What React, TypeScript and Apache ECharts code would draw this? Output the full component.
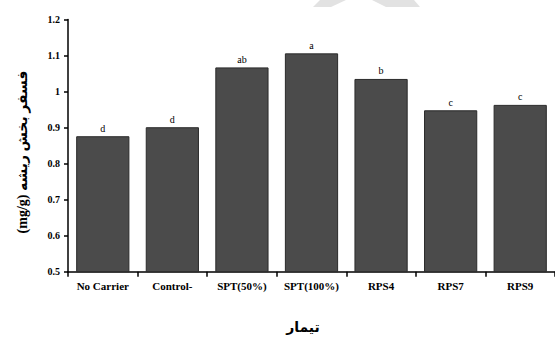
import React, { useEffect, useRef } from "react";
import * as echarts from "echarts";

const categories = ["No Carrier", "Control-", "SPT(50%)", "SPT(100%)", "RPS4", "RPS7", "RPS9"];
const values = [0.876, 0.901, 1.067, 1.106, 1.035, 0.948, 0.963];
const letters = ["d", "d", "ab", "a", "b", "c", "c"];
const yTicks = [0.5, 0.6, 0.7, 0.8, 0.9, 1, 1.1, 1.2];

export default function App() {
  const ref = useRef<HTMLDivElement>(null);
  useEffect(() => {
    if (!ref.current) return;
    const chart = echarts.init(ref.current, undefined, { renderer: "svg" });
    chart.setOption({
      animation: false,
      backgroundColor: "#ffffff",
      grid: { left: 68, right: -8, top: 19.5, bottom: 67.3, containLabel: false },
      xAxis: {
        type: "category",
        data: categories,
        axisLine: { lineStyle: { color: "#000", width: 1.5 } },
        axisTick: { show: true, length: 5, alignWithLabel: false, lineStyle: { color: "#000", width: 1.5 } },
        axisLabel: {
          color: "#000",
          fontFamily: "Liberation Serif, Times New Roman, serif",
          fontWeight: "bold",
          fontSize: 11,
          margin: 9,
          interval: 0,
        },
      },
      yAxis: {
        type: "value",
        min: 0.5,
        max: 1.2,
        interval: 0.1,
        splitLine: { show: false },
        axisLine: { show: true, lineStyle: { color: "#000", width: 1.5 } },
        axisTick: { show: true, length: 4, lineStyle: { color: "#000", width: 1.5 } },
        axisLabel: {
          color: "#000",
          fontFamily: "Liberation Serif, Times New Roman, serif",
          fontWeight: "bold",
          fontSize: 10,
          margin: 8,
          formatter: (v: number) => {
            const t = yTicks.find((x) => Math.abs(x - v) < 1e-6);
            return t === undefined ? "" : String(t);
          },
        },
      },
      series: [
        {
          type: "bar",
          data: values,
          barCategoryGap: "23.5%",
          itemStyle: { color: "#4b4b4b", borderColor: "#2a2a2a", borderWidth: 1 },
          label: {
            show: true,
            position: "top",
            distance: 3,
            color: "#000",
            fontFamily: "Liberation Serif, Times New Roman, serif",
            fontSize: 10,
            formatter: (p: any) => letters[p.dataIndex],
          },
        },
      ],
      graphic: [
        {
          type: "polygon",
          shape: { points: [[320, 0], [346, 0], [331, 7], [313, 7]] },
          style: { fill: "#e2e2e2" },
          silent: true,
        },
        {
          type: "polygon",
          shape: { points: [[372, 0], [414, 0], [420, 7], [386, 7]] },
          style: { fill: "#e2e2e2" },
          silent: true,
        },
        {
          type: "text",
          x: 22,
          y: 152,
          rotation: Math.PI / 2,
          style: {
            text: "(mg/g) فسفر بخش ریشه",
            fill: "#000",
            fontFamily: "Liberation Serif, DejaVu Sans, serif",
            fontWeight: "bold",
            fontSize: 14,
            align: "center",
            verticalAlign: "middle",
          },
        },
        {
          type: "text",
          x: 303,
          y: 327,
          style: {
            text: "تیمار",
            fill: "#000",
            fontFamily: "DejaVu Sans, Liberation Serif, serif",
            fontWeight: "bold",
            fontSize: 14,
            align: "center",
            verticalAlign: "middle",
          },
        },
      ],
    });
    return () => chart.dispose();
  }, []);
  return <div ref={ref} style={{ width: 555, height: 339, position: "absolute", left: 0, top: 0 }} />;
}
